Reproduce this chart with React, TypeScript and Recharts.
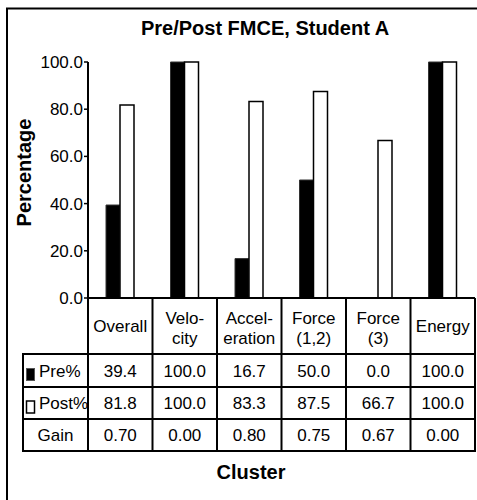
import { BarChart, Bar, XAxis, YAxis, Customized } from 'recharts';

// data (the table under the chart gives exact values)
const categories = ['Overall', 'Velo-\ncity', 'Accel-\neration', 'Force\n(1,2)', 'Force\n(3)', 'Energy'];
const prePct = [39.4, 100.0, 16.7, 50.0, 0.0, 100.0];
const postPct = [81.8, 100.0, 83.3, 87.5, 66.7, 100.0];
const gain = [0.7, 0.0, 0.8, 0.75, 0.67, 0.0];
const yTicks = [0, 20, 40, 60, 80, 100];
const seriesNames = ['Pre%', 'Post%'];
const gainLabel = 'Gain';

const chartData = categories.map((c, i) => ({ cluster: c, pre: prePct[i], post: postPct[i] }));

// layout
const W = 477;
const H = 500;
const PLOT_TOP = 62;
const PLOT_LEFT = 88;
const PLOT_RIGHT = 475;
const AXIS_Y = 298;
const HEADER_BOTTOM = 354;
const ROW_BOTTOMS = [387, 419, 451];
const ROW_BASELINES = [377, 409, 441];
const TABLE_LEFT = 23;
const COL_W = (PLOT_RIGHT - PLOT_LEFT) / categories.length;
const FONT = 'Liberation Sans, Arial, Helvetica, sans-serif';

function TableColumn(props: any) {
  const { x, payload } = props;
  const i = categories.indexOf(payload.value);
  const lines = String(payload.value).split('\n');
  const cells = [prePct[i].toFixed(1), postPct[i].toFixed(1), gain[i].toFixed(2)];
  return (
    <g fontFamily={FONT} fontSize={17} fill="#000">
      <line x1={x + COL_W / 2} x2={x + COL_W / 2} y1={AXIS_Y} y2={ROW_BOTTOMS[2] + 1} stroke="#000" strokeWidth={2} />
      {lines.map((ln, k) => (
        <text key={k} x={x} y={lines.length === 1 ? 332 : 324 + k * 20} textAnchor="middle">
          {ln}
        </text>
      ))}
      {cells.map((v, k) => (
        <text key={'c' + k} x={x} y={ROW_BASELINES[k]} textAnchor="middle">
          {v}
        </text>
      ))}
    </g>
  );
}

function Overlay() {
  return (
    <g fontFamily={FONT} fill="#000">
      {/* outer frame (cropped on right and bottom) */}
      <line x1={6} x2={W} y1={8.5} y2={8.5} stroke="#000" strokeWidth={2} />
      <line x1={7} x2={7} y1={8} y2={H} stroke="#000" strokeWidth={2} />
      <text x={265} y={35} textAnchor="middle" fontSize={20} fontWeight="bold">
        Pre/Post FMCE, Student A
      </text>
      <text x={31} y={172.5} textAnchor="middle" fontSize={20} fontWeight="bold" transform="rotate(-90 31 172.5)">
        Percentage
      </text>
      <text x={251} y={479} textAnchor="middle" fontSize={20} fontWeight="bold">
        Cluster
      </text>
      {/* table grid */}
      <line x1={PLOT_LEFT} x2={PLOT_LEFT} y1={AXIS_Y} y2={ROW_BOTTOMS[2] + 1} stroke="#000" strokeWidth={2} />
      <line x1={TABLE_LEFT} x2={TABLE_LEFT} y1={HEADER_BOTTOM - 1} y2={ROW_BOTTOMS[2] + 1} stroke="#000" strokeWidth={2} />
      {[HEADER_BOTTOM, ...ROW_BOTTOMS].map((y) => (
        <line key={y} x1={TABLE_LEFT - 1} x2={PLOT_RIGHT + 1} y1={y} y2={y} stroke="#000" strokeWidth={2} />
      ))}
      {/* legend column */}
      <rect x={26.5} y={368.5} width={8} height={12} fill="#000" stroke="#555" strokeWidth={1} />
      <rect x={26.5} y={401} width={8} height={12} fill="#fff" stroke="#000" strokeWidth={1.5} />
      <text x={39} y={ROW_BASELINES[0]} fontSize={17}>{seriesNames[0]}</text>
      <text x={39} y={ROW_BASELINES[1]} fontSize={17}>{seriesNames[1]}</text>
      <text x={(TABLE_LEFT + PLOT_LEFT) / 2} y={ROW_BASELINES[2]} fontSize={17} textAnchor="middle">
        {gainLabel}
      </text>
    </g>
  );
}

export default function App() {
  return (
    <div style={{ position: 'absolute', left: 0, top: 0, width: W, height: H, background: '#fff', overflow: 'hidden' }}>
      <BarChart
        width={W}
        height={H}
        data={chartData}
        margin={{ top: PLOT_TOP, right: W - PLOT_RIGHT, bottom: 0, left: 0 }}
        barGap={0}
      >
        <YAxis
          domain={[0, 100]}
          ticks={yTicks}
          interval={0}
          width={PLOT_LEFT}
          tickFormatter={(v: number) => v.toFixed(1)}
          axisLine={{ stroke: '#000', strokeWidth: 2 }}
          tickLine={{ stroke: '#000', strokeWidth: 1.5 }}
          tickSize={4}
          tickMargin={1}
          tick={{ fill: '#000', fontSize: 17, fontFamily: FONT }}
        />
        <XAxis
          dataKey="cluster"
          height={H - AXIS_Y}
          interval={0}
          axisLine={{ stroke: '#000', strokeWidth: 2 }}
          tickLine={false}
          tick={TableColumn}
        />
        <Bar dataKey="pre" name={seriesNames[0]} fill="#000" stroke="#333" strokeWidth={1} barSize={14} isAnimationActive={false} />
        <Bar dataKey="post" name={seriesNames[1]} fill="#fff" stroke="#000" strokeWidth={1.5} barSize={14} isAnimationActive={false} />
        <Customized component={Overlay} />
      </BarChart>
    </div>
  );
}
